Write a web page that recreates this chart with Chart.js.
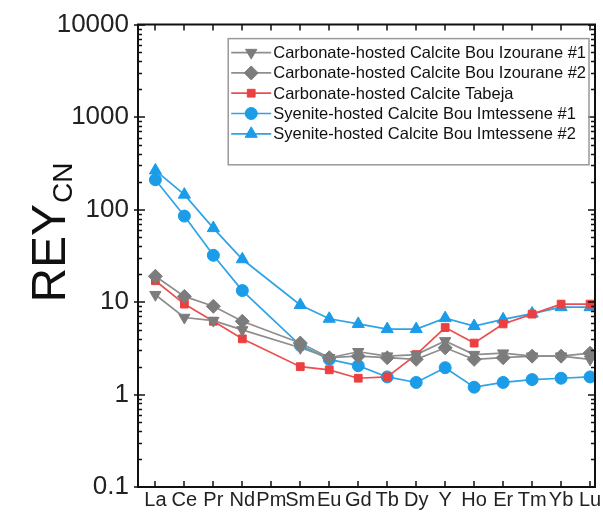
<!DOCTYPE html>
<html>
<head>
<meta charset="utf-8">
<script src="https://cdn.jsdelivr.net/npm/chart.js@4.4.0/dist/chart.umd.min.js"></script>
<style>
  html, body { margin: 0; padding: 0; background: #fff; }
</style>
</head>
<body>
<canvas id="chart" width="603" height="517"></canvas>
<script>
// Chondrite-normalised REY values, one array per sample (Pm not measured)
const elements = ["La", "Ce", "Pr", "Nd", "Pm", "Sm", "Eu", "Gd", "Tb", "Dy", "Y", "Ho", "Er", "Tm", "Yb", "Lu"];
const bouIzourane1 = [12, 6.8, 6.3, 5.0, null, 3.2, 2.5, 2.9, 2.6, 2.7, 3.8, 2.7, 2.8, 2.6, 2.6, 2.4];
const bouIzourane2 = [19, 11.5, 9.0, 6.2, null, 3.6, 2.5, 2.6, 2.5, 2.4, 3.2, 2.4, 2.5, 2.6, 2.6, 2.8];
const tabeja = [17, 9.5, 6.2, 4.0, null, 2.0, 1.85, 1.5, 1.55, 2.7, 5.3, 3.6, 5.8, 7.4, 9.5, 9.5];
const bouImtessene1 = [210, 85, 32, 13.3, null, 3.4, 2.4, 2.05, 1.55, 1.35, 1.95, 1.2, 1.35, 1.45, 1.5, 1.55];
const bouImtessene2 = [265, 145, 63, 29, null, 9.3, 6.6, 5.8, 5.1, 5.1, 6.7, 5.5, 6.5, 7.5, 8.8, 8.8];
const yTicks = [0.1, 1, 10, 100, 1000, 10000];

const FONT = "'Liberation Sans', Arial, sans-serif";
const GREY = "#7c7c7c";
const RED = "#ec4040";
const BLUE = "#1b9ce8";

function toPoints(values) {
    return values.map((v, i) => ({ x: i + 1, y: v }));
}

function series(label, values, color, lineColor, style, radius, rotation) {
    return {
        label: label,
        data: toPoints(values),
        borderColor: lineColor,
        backgroundColor: color,
        pointBackgroundColor: color,
        pointBorderColor: color,
        pointBorderWidth: 1,
        borderWidth: 1.7,
        pointStyle: style,
        pointRadius: radius,
        pointRotation: rotation || 0,
        spanGaps: true,
    };
}

// Draws top/right frame and the inward tick marks
const frame = {
    id: "frame",
    afterDraw(chart) {
        const { ctx, chartArea: a, scales } = chart;
        const x = scales.x, y = scales.y;
        ctx.save();
        ctx.strokeStyle = "#111";
        ctx.lineWidth = 2;
        ctx.beginPath();
        ctx.moveTo(a.left - 1, a.top);
        ctx.lineTo(a.right, a.top);
        ctx.lineTo(a.right, a.bottom + 1);
        ctx.stroke();

        ctx.lineWidth = 1.5;
        ctx.beginPath();
        elements.forEach((_, i) => {
            const px = Math.round(x.getPixelForValue(i + 1));
            ctx.moveTo(px, a.bottom);
            ctx.lineTo(px, a.bottom - 6);
            ctx.moveTo(px, a.top);
            ctx.lineTo(px, a.top + 6);
        });
        for (let d = -1; d <= 4; d++) {
            const py = Math.round(y.getPixelForValue(Math.pow(10, d)));
            ctx.moveTo(a.left - 4, py);
            ctx.lineTo(a.left + 7, py);
            ctx.moveTo(a.right - 7, py);
            ctx.lineTo(a.right, py);
            if (d === 4) continue;
            for (let m = 2; m <= 9; m++) {
                const my = Math.round(y.getPixelForValue(m * Math.pow(10, d))) + 0.5;
                ctx.moveTo(a.left, my);
                ctx.lineTo(a.left + 4, my);
                ctx.moveTo(a.right - 4, my);
                ctx.lineTo(a.right, my);
            }
        }
        ctx.stroke();

        // Y axis title with subscript
        ctx.fillStyle = "#111";
        ctx.translate(a.left - 73, a.top + 278);
        ctx.rotate(-Math.PI / 2);
        ctx.textBaseline = "alphabetic";
        ctx.font = "48px " + FONT;
        ctx.fillText("REY", 0, 0);
        const w = ctx.measureText("REY").width;
        ctx.font = "28px " + FONT;
        ctx.fillText("CN", w + 1, 7);
        ctx.restore();
    },
};

// Boxed legend in the upper right of the plot
const boxLegend = {
    id: "boxLegend",
    afterDraw(chart) {
        const { ctx, chartArea: a } = chart;
        const sets = chart.data.datasets;
        ctx.save();
        ctx.font = "16.5px " + FONT;
        const textW = Math.max(...sets.map((d) => ctx.measureText(d.label).width));
        const right = a.right - 6;
        const left = right - (textW + 48);
        const top = a.top + 14;
        const rowH = 20.3;
        const bottom = top + 14 + rowH * (sets.length - 1) + 31;

        ctx.strokeStyle = "#999";
        ctx.lineWidth = 1.5;
        ctx.strokeRect(left, top, right - left, bottom - top);

        sets.forEach((d, i) => {
            const cy = top + 14 + i * rowH;
            ctx.strokeStyle = d.borderColor;
            ctx.lineWidth = 1.7;
            ctx.beginPath();
            ctx.moveTo(left + 3, cy);
            ctx.lineTo(left + 43, cy);
            ctx.stroke();
            ctx.fillStyle = d.pointBackgroundColor;
            ctx.strokeStyle = d.pointBorderColor;
            ctx.lineWidth = 1;
            Chart.helpers.drawPoint(ctx, {
                pointStyle: d.pointStyle,
                radius: d.pointRadius,
                rotation: d.pointRotation,
                borderWidth: 1,
            }, left + 23, cy);
            ctx.fillStyle = "#111";
            ctx.textBaseline = "middle";
            ctx.fillText(d.label, left + 45, cy + 1);
        });
        ctx.restore();
    },
};

const chart = new Chart(document.getElementById("chart"), {
    type: "line",
    data: {
        datasets: [
            series("Carbonate-hosted Calcite Bou Izourane #1", bouIzourane1, GREY, "#8e8e8e", "triangle", 6.5, 180),
            series("Carbonate-hosted Calcite Bou Izourane #2", bouIzourane2, GREY, "#8e8e8e", "rectRot", 7),
            series("Carbonate-hosted Calcite Tabeja", tabeja, RED, "#ea5050", "rect", 5.5),
            series("Syenite-hosted Calcite Bou Imtessene #1", bouImtessene1, BLUE, "#2ea3e6", "circle", 6),
            series("Syenite-hosted Calcite Bou Imtessene #2", bouImtessene2, BLUE, "#2ea3e6", "triangle", 7),
        ],
    },
    options: {
        responsive: false,
        animation: false,
        layout: { padding: { top: 23, right: 3, left: 0, bottom: 0 } },
        plugins: {
            legend: { display: false },
            tooltip: { enabled: false },
        },
        scales: {
            x: {
                type: "linear",
                min: 0.4,
                max: 16.17,
                afterBuildTicks: (s) => {
                    s.ticks = elements.map((_, i) => ({ value: i + 1 }));
                },
                afterFit: (s) => {
                    s.height = 30;
                },
                ticks: {
                    autoSkip: false,
                    maxRotation: 0,
                    padding: 1,
                    color: "#222",
                    font: { family: FONT, size: 20 },
                    callback: (v) => elements[Math.round(v) - 1],
                },
                grid: { display: false, drawTicks: false },
                border: { display: true, color: "#111", width: 2 },
            },
            y: {
                type: "logarithmic",
                min: 0.1,
                max: 10000,
                afterBuildTicks: (s) => {
                    s.ticks = yTicks.map((v) => ({ value: v }));
                },
                afterFit: (s) => {
                    s.width = 138;
                },
                ticks: {
                    padding: 9,
                    color: "#222",
                    font: { family: FONT, size: 26 },
                    callback: (v) => String(v),
                },
                grid: { display: false, drawTicks: false },
                border: { display: true, color: "#111", width: 2 },
            },
        },
    },
    plugins: [frame, boxLegend],
});
</script>
</body>
</html>
